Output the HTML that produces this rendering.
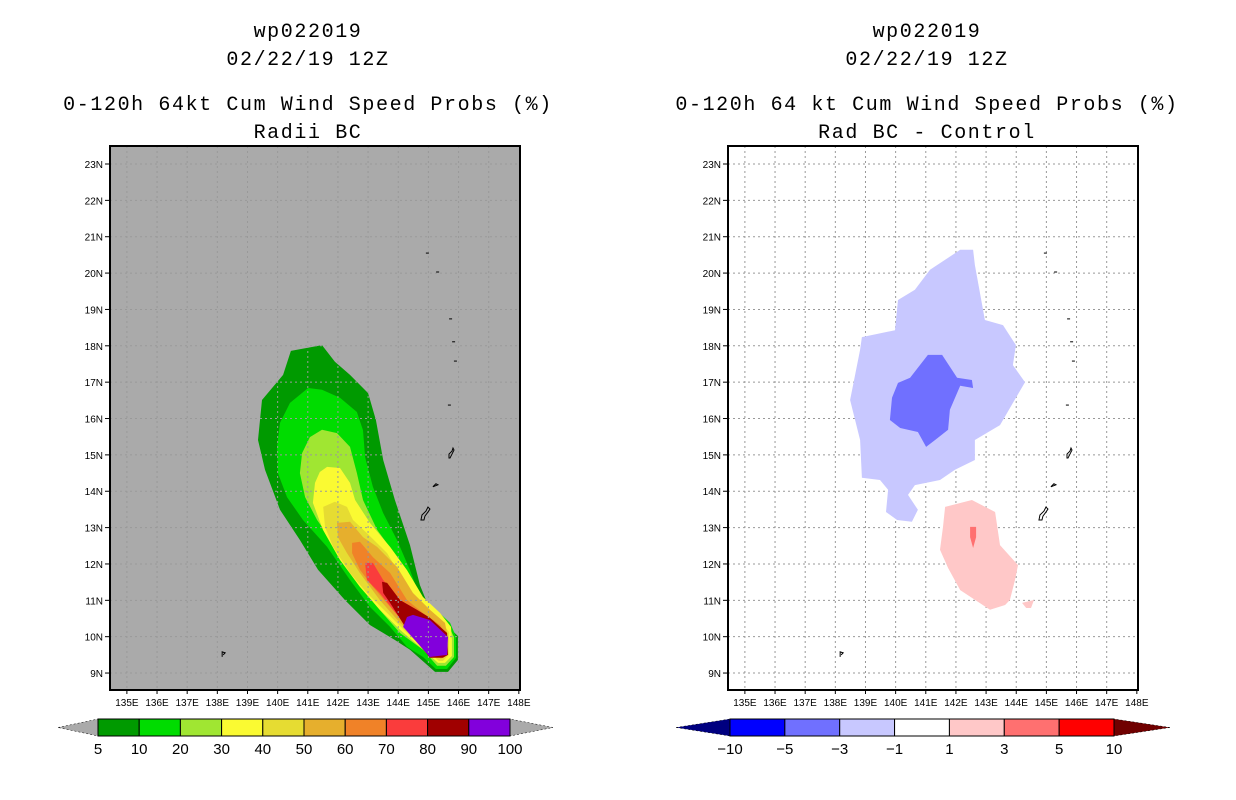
<!DOCTYPE html>
<html><head><meta charset="utf-8">
<style>
body{margin:0;background:#fff;width:1236px;height:800px;overflow:hidden}
svg{display:block}
text{font-family:"Liberation Sans",sans-serif;fill:#000}
.t{font-family:"Liberation Mono",monospace;font-size:20px;letter-spacing:1.6px}
.k{font-size:10px}
.c{font-size:15px}
</style></head><body>
<svg id="s" width="1236" height="800"></svg>
<script>
// ---- data ----
const latTicks=[9,10,11,12,13,14,15,16,17,18,19,20,21,22,23];
const lonTicks=[135,136,137,138,139,140,141,142,143,144,145,146,147,148];
const leftLevels=['5%','10%','20%','30%','40%','50%','60%','70%','80%','90%'];
const leftColors=['#009a00','#00dc00','#a0e632','#fafa32','#e6dc32','#e6af2d','#f08228','#fa3c3c','#a00000','#8200dc'];
const p05=[[140.44,17.86],[141.47,18.02],[141.90,17.56],[142.40,17.20],[143.00,16.70],[143.26,15.96],[143.50,14.86],[143.89,13.76],[144.39,12.52],[144.72,11.42],[145.05,10.74],[145.98,10.02],[145.98,9.36],[145.65,9.03],[145.22,9.03],[144.39,9.64],[143.89,9.91],[143.06,10.32],[142.23,11.01],[141.34,11.84],[140.74,12.66],[140.08,13.49],[139.58,14.59],[139.35,15.41],[139.48,16.51],[140.18,17.20]];
const p10=[[141.01,16.84],[141.47,16.79],[142.07,16.57],[142.63,16.18],[142.83,15.68],[142.90,14.94],[143.16,14.12],[143.50,13.40],[143.96,12.66],[144.39,11.83],[144.72,11.09],[145.15,10.82],[145.72,10.38],[145.92,9.99],[145.92,9.42],[145.62,9.11],[145.25,9.11],[144.82,9.44],[144.29,9.72],[143.73,10.27],[143.06,10.82],[142.40,11.56],[141.64,12.47],[140.84,13.21],[140.31,13.84],[140.01,14.50],[139.98,15.22],[140.08,15.88],[140.41,16.43]];
const p20=[[141.47,15.69],[141.97,15.60],[142.40,15.22],[142.63,14.50],[142.83,13.76],[143.30,12.94],[143.96,12.19],[144.49,11.37],[145.05,10.82],[145.62,10.38],[145.85,9.99],[145.85,9.44],[145.58,9.20],[145.29,9.20],[144.82,9.64],[144.06,10.10],[143.30,10.82],[142.40,11.75],[141.84,12.58],[141.31,13.21],[140.91,13.84],[140.74,14.50],[140.81,15.05],[141.07,15.49]];
const p30=[[141.64,14.67],[142.07,14.64],[142.40,14.23],[142.57,13.76],[143.06,13.13],[143.73,12.47],[144.29,11.83],[144.82,11.09],[145.39,10.65],[145.75,10.27],[145.78,9.91],[145.78,9.47],[145.55,9.28],[145.32,9.28],[144.72,9.72],[144.06,10.19],[143.39,10.74],[142.73,11.37],[142.07,12.11],[141.50,12.94],[141.17,13.68],[141.24,14.23],[141.40,14.53]];
const p40=[[141.51,13.57],[141.90,13.71],[142.30,13.57],[142.50,13.21],[142.96,12.85],[143.63,12.30],[144.16,11.56],[144.72,10.93],[145.39,10.46],[145.68,10.13],[145.68,9.50],[145.48,9.33],[145.35,9.33],[144.82,9.72],[144.29,10.10],[143.63,10.65],[142.96,11.20],[142.40,11.75],[141.84,12.47],[141.57,13.02]];
const p50=[[141.97,13.13],[142.40,13.16],[142.83,12.74],[143.30,12.47],[143.96,11.92],[144.49,11.20],[145.05,10.74],[145.55,10.38],[145.62,10.08],[145.62,9.53],[145.42,9.39],[144.85,9.77],[144.06,10.38],[143.39,11.01],[142.73,11.75],[142.30,12.30],[142.00,12.74]];
const p60=[[142.47,12.58],[142.73,12.61],[143.16,12.19],[143.73,11.75],[144.29,11.01],[144.82,10.65],[145.39,10.32],[145.55,10.08],[145.55,9.56],[145.39,9.44],[144.82,9.91],[144.39,10.19],[143.73,10.82],[143.16,11.37],[142.73,11.84],[142.47,12.30]];
const p70=[[142.90,12.03],[143.16,12.03],[143.50,11.56],[144.06,11.01],[144.62,10.65],[145.15,10.46],[145.48,10.13],[145.48,9.58],[145.32,9.47],[144.72,9.91],[144.29,10.27],[143.83,10.74],[143.39,11.20],[142.96,11.56]];
const p80=[[143.46,11.51],[143.63,11.48],[144.06,11.01],[144.62,10.74],[145.05,10.52],[145.62,10.10],[145.65,9.50],[145.48,9.42],[145.05,9.42],[144.29,10.19],[143.73,10.93],[143.50,11.20]];
const p90=[[144.29,10.54],[144.49,10.60],[145.05,10.46],[145.65,9.99],[145.62,9.50],[145.05,9.44],[144.16,10.27]];
const leftPolys=[p05,p10,p20,p30,p40,p50,p60,p70,p80,p90];
const dLight=[[142.14,20.64],[142.57,20.64],[142.63,20.22],[142.96,18.71],[143.56,18.57],[143.99,18.02],[143.89,17.47],[144.29,17.00],[143.46,15.82],[142.63,15.41],[142.63,14.86],[141.97,14.59],[141.47,14.31],[140.64,14.17],[140.41,13.90],[140.74,13.49],[140.54,13.16],[140.05,13.21],[139.68,13.43],[139.75,14.04],[139.48,14.31],[138.88,14.37],[138.82,15.41],[138.49,16.51],[138.82,17.89],[138.88,18.24],[139.98,18.43],[140.08,19.26],[140.64,19.54],[141.14,20.09]];
const dMid=[[141.07,17.75],[141.54,17.75],[142.04,17.12],[142.53,17.06],[142.57,16.84],[142.14,16.90],[141.80,16.24],[141.74,15.69],[141.31,15.41],[141.01,15.22],[140.74,15.63],[140.15,15.74],[139.81,15.96],[139.88,16.57],[140.08,16.98],[140.48,17.12]];
const dPink=[[141.64,13.57],[142.53,13.76],[143.30,13.43],[143.46,12.52],[144.06,11.97],[143.96,11.56],[143.79,11.01],[143.63,10.87],[143.13,10.74],[142.14,11.28],[141.74,11.89],[141.47,12.39],[141.57,13.02]];
const dPink2=[[144.19,10.93],[144.59,11.01],[144.49,10.79],[144.33,10.79]];
const dRed=[[142.47,13.02],[142.67,13.02],[142.67,12.74],[142.57,12.44],[142.47,12.74]];
const islands=[[144.95,20.55],[145.29,20.03],[145.72,18.74],[145.82,18.11],[145.88,17.58],[145.68,16.37],[145.75,15.05],[145.25,14.15],[144.82,13.40],[138.16,9.50]];
const rightLevels=['-10','-5','-3','-1','1','3','5','10'];
const rightColors=['#0000ff','#7070ff','#c8c8ff','#ffffff','#ffc8c8','#ff7070','#ff0000'];
// ---- drawing ----
const NS='http://www.w3.org/2000/svg';
const svg=document.getElementById('s');
function mk(tag,attrs,parent){const e=document.createElementNS(NS,tag);for(const k in attrs)e.setAttribute(k,attrs[k]);(parent||svg).appendChild(e);return e;}
function xs(ox){return lon=>ox+(lon-134.44)*30.15;}
function ys(lat){return 164+(23-lat)*36.36;}
function pts(poly,X){return poly.map(p=>X(p[0]).toFixed(1)+','+ys(p[1]).toFixed(1)).join(' ');}
function title(cx,lines){lines.forEach((t,i)=>{const e=mk('text',{x:cx,y:[37,65,110,138][i],'text-anchor':'middle',class:'t'});e.textContent=t;

});}
function panel(ox,bg,name){
  const X=xs(ox);
  const g=mk('g',{});
  
  
  const r=mk('rect',{x:ox,y:146,width:410,height:544,fill:bg},g);
  
  
  return {X,g};
}
function grid(P,ox){
  const gg=mk('g',{stroke:'#999',"stroke-width":1,"stroke-dasharray":'2,3'},P.g);
  
  
  lonTicks.forEach(l=>{if(l<148)mk('line',{x1:P.X(l),x2:P.X(l),y1:146,y2:690},gg);});
  latTicks.forEach(l=>mk('line',{x1:ox,x2:ox+410,y1:ys(l),y2:ys(l)},gg));
}
function axes(P,ox){
  const f=mk('rect',{x:ox,y:146,width:410,height:544,fill:'none',stroke:'#000','stroke-width':2},P.g);
  
  
  latTicks.forEach(l=>{mk('line',{x1:ox-5,x2:ox,y1:ys(l),y2:ys(l),stroke:'#000'},P.g);
    const t=mk('text',{x:ox-7,y:ys(l)+4,'text-anchor':'end',class:'k'},P.g);t.textContent=l+'N';
    
    });
  lonTicks.forEach(l=>{mk('line',{x1:P.X(l),x2:P.X(l),y1:690,y2:694,stroke:'#000'},P.g);
    const t=mk('text',{x:P.X(l),y:706,'text-anchor':'middle',class:'k'},P.g);t.textContent=l+'E';
    
    });
  const ig=mk('g',{fill:'none',stroke:'#000','stroke-width':1},P.g);
  
  
  islands.forEach((p,i)=>{const x=P.X(p[0]),y=ys(p[1]);
    if(i===8){mk('path',{d:`M${x-2},${y+7} l1,-5 l4,-4 l2,-4 l2,2 l-2,3 l-3,4 l-1,4 z`},ig);}
    else if(i===6){mk('path',{d:`M${x-2},${y+5} l0,-4 l3,-3 l1,-3 l1,2 l-2,4 l-2,4z`},ig);}
    else if(i===7){mk('path',{d:`M${x-3},${y+1} l3,-3 l2,1 z`},ig);}
    else if(i===9){mk('path',{d:`M${x},${y+2} l0,-5 l3,1 l-2,2`},ig);}
    else mk('path',{d:`M${x-1},${y} l3,0`},ig);});
}
function poly(P,p,fill,name){const e=mk('polygon',{points:pts(p,P.X),fill:fill},P.g);
  
  }
// left
title(308,['wp022019','02/22/19 12Z','0-120h 64kt Cum Wind Speed Probs (%)','Radii BC']);
const L=panel(110,'#aaaaaa','left-map');
leftPolys.forEach((p,i)=>poly(L,p,leftColors[i],'contour-'+leftLevels[i]));
grid(L,110);axes(L,110);
// right
title(927,['wp022019','02/22/19 12Z','0-120h 64 kt Cum Wind Speed Probs (%)','Rad BC - Control']);
const R=panel(728,'#ffffff','right-map');
grid(R,728);
poly(R,dLight,'#c8c8ff','diff-minus1');poly(R,dMid,'#7070ff','diff-minus3');
poly(R,dPink,'#ffc8c8','diff-plus1');poly(R,dPink2,'#ffc8c8','diff-plus1-small');poly(R,dRed,'#ff7070','diff-plus3');
axes(R,728);
// colorbars
function cbar(x0,x1,tipL,tipR,colors,labels,lc,rc,name){
  const g=mk('g',{});
  
  
  const y0=719,y1=736,n=colors.length,w=(x1-x0)/n;
  mk('polygon',{points:`${tipL},${(y0+y1)/2} ${x0},${y0} ${x0},${y1}`,fill:lc,stroke:'#000','stroke-width':0.5,'stroke-dasharray':'2,2'},g);
  mk('polygon',{points:`${tipR},${(y0+y1)/2} ${x1},${y0} ${x1},${y1}`,fill:rc,stroke:'#000','stroke-width':0.5,'stroke-dasharray':'2,2'},g);
  colors.forEach((c,i)=>{const r=mk('rect',{x:x0+i*w,y:y0,width:w,height:y1-y0,fill:c,stroke:'#000','stroke-width':1},g);
    
    });
  labels.forEach((t,i)=>{const e=mk('text',{x:x0+i*w,y:754,'text-anchor':'middle',class:'c'},g);e.textContent=t.replace('-','\u2212');
    
    });
}
cbar(98,510,58,553,leftColors,['5','10','20','30','40','50','60','70','80','90','100'],'#aaaaaa','#aaaaaa','left-colorbar');
cbar(730,1114,676,1170,rightColors,rightLevels,'#000080','#700000','right-colorbar');
</script>
</body></html>
